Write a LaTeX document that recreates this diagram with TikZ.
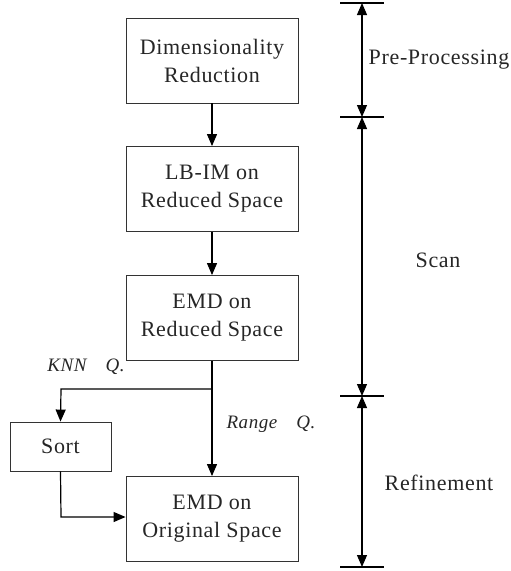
\documentclass[tikz,border=0pt]{standalone}
\usepackage{fontspec}
\setmainfont{Liberation Serif}[LetterSpace=3]
\usetikzlibrary{arrows.meta}
\begin{document}
\begin{tikzpicture}[x=1pt,y=-1pt,
  box/.style={draw=black!80,line width=0.9pt,minimum width=172pt,minimum height=85pt,inner sep=0pt,align=center,font=\fontsize{22}{28}\selectfont,text=black!85},
  sortbox/.style={draw=black!80,line width=0.9pt,minimum width=101pt,minimum height=49pt,inner sep=0pt,font=\fontsize{22}{28}\selectfont,text=black!85},
  flow/.style={line width=1.2pt,-{Triangle[length=12pt,width=10pt]}},
  dim/.style={line width=1.2pt,{Triangle[length=12pt,width=10pt]}-{Triangle[length=12pt,width=10pt]}},
  tick/.style={line width=1.2pt},
  lbl/.style={font=\fontsize{22}{24}\selectfont,text=black!85,inner sep=0pt},
  qlbl/.style={font=\itshape\fontsize{19}{22}\selectfont,text=black!85,inner sep=0pt}]
\useasboundingbox (0,0) rectangle (511,571);
\node[box] (dr) at (212,60.5) {Dimensionality\\Reduction};
\node[box] (lb) at (212,189) {LB-IM on\\Reduced Space};
\node[box] (er) at (212,318) {EMD on\\Reduced Space};
\node[sortbox] (sort) at (60.5,446.5) {Sort};
\node[box] (eo) at (212,519) {EMD on\\Original Space};
\coordinate (br) at (212,389);
\coordinate (bl) at (61,389);
\coordinate (sl) at (61,517);
\draw[flow] (dr) -- (lb);
\draw[flow] (lb) -- (er);
\draw[line width=1.2pt] (er.south) -- (br);
\draw[flow] (br) -- (eo.north);
\draw[flow] (br) -- (bl) -- (sort.north);
\draw[flow] (sort.south) -- (sl) -- (eo.west |- sl);
\node[qlbl] (knn) at (86,367) {KNN\quad Q.};
\node[qlbl] (rng) at (271,424) {Range\quad Q.};
% dimension lines
\coordinate (t1) at (362,3);
\coordinate (t2) at (362,117);
\coordinate (t3) at (362,396);
\coordinate (t4) at (362,567);
\foreach \t in {t1,t2,t3,t4} \draw[tick] ([xshift=-22pt]\t) -- ([xshift=22pt]\t);
\draw[dim] (t1) -- (t2);
\draw[dim] (t2) -- (t3);
\draw[dim] (t3) -- (t4);
\node[lbl] (pp) at (439,60) {Pre-Processing};
\node[lbl] (sc) at (438,260) {Scan};
\node[lbl] (rf) at (439,483) {Refinement};
\end{tikzpicture}
\end{document}
